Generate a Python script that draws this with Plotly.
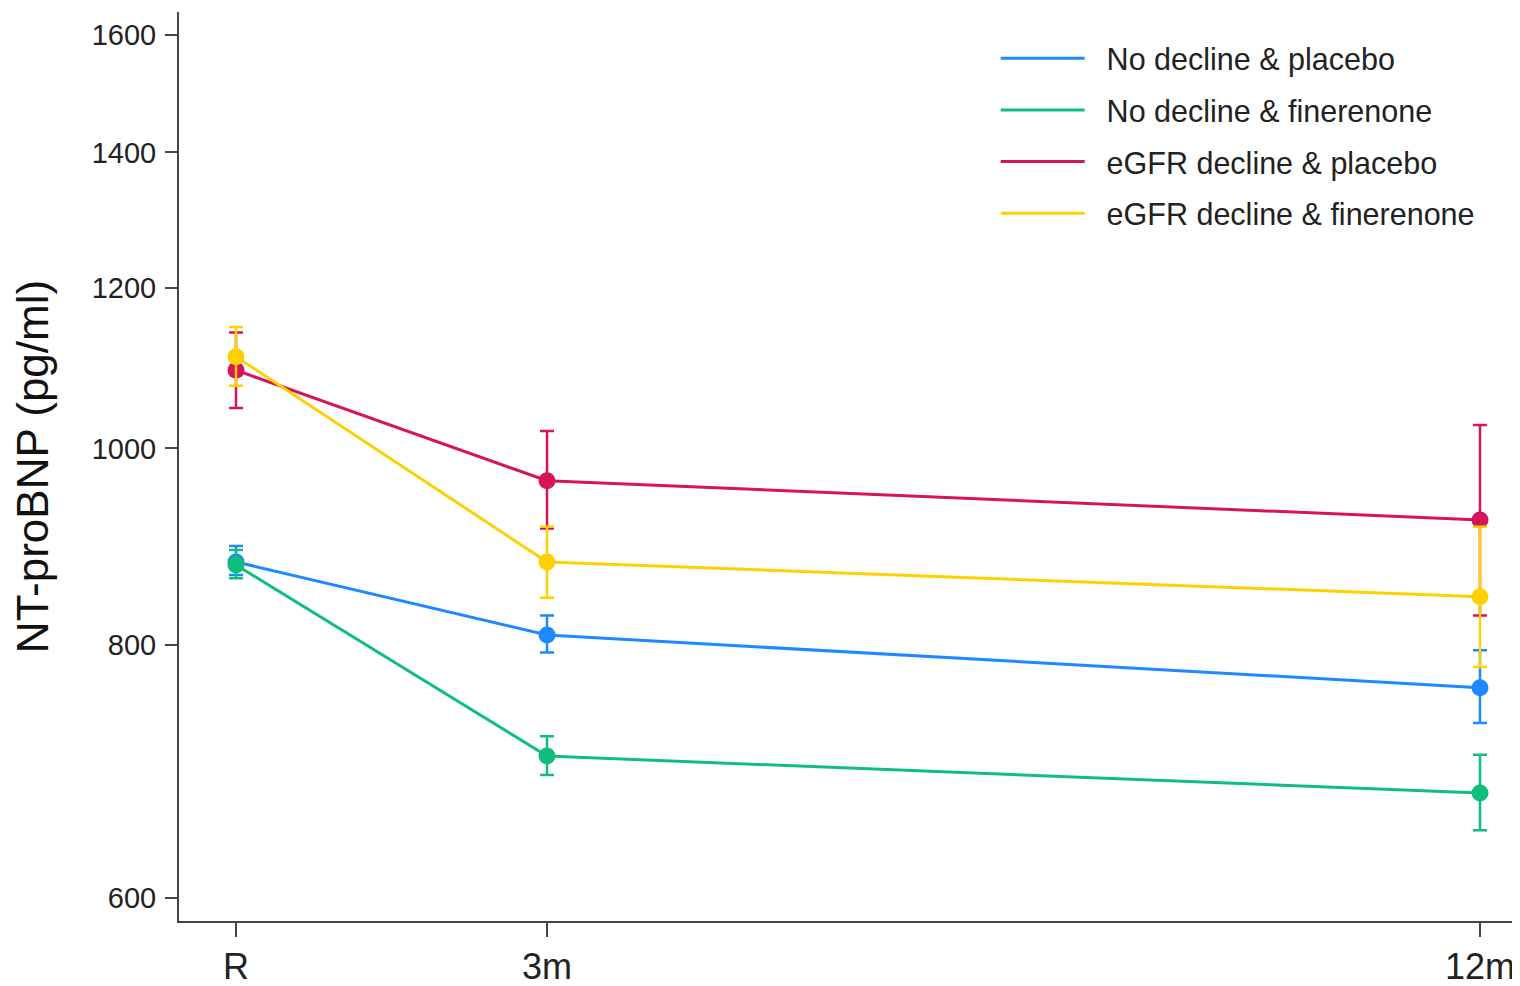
import plotly.graph_objects as go

# ---- data ----
timepoints = [0, 3, 12]
tick_labels = ["R", "3m", "12m"]
series_names = ["No decline & placebo", "No decline & finerenone",
                "eGFR decline & placebo", "eGFR decline & finerenone"]
series_colors = ["#1E88FF", "#10BE7C", "#D6145A", "#FFD000"]

blue_mean = [879, 809, 762]
blue_upper = [895, 827, 795]
blue_lower = [866, 793, 732]

green_mean = [876, 705, 676]
green_upper = [891, 721, 706]
green_lower = [863, 690, 648]

red_mean = [1093, 964, 922]
red_upper = [1141, 1020, 1027]
red_lower = [1047, 913, 827]

yellow_mean = [1110, 879, 845]
yellow_upper = [1148, 915, 915]
yellow_lower = [1074, 844, 780]

y_ticks = [600, 800, 1000, 1200, 1400, 1600]

means = [blue_mean, green_mean, red_mean, yellow_mean]
uppers = [blue_upper, green_upper, red_upper, yellow_upper]
lowers = [blue_lower, green_lower, red_lower, yellow_lower]

FONT = "Liberation Sans, Arial, sans-serif"
AX = "#444444"
NB = "\u00a0\u00a0"

fig = go.Figure()
for i, name in enumerate(series_names):
    m, u, lo, c = means[i], uppers[i], lowers[i], series_colors[i]
    fig.add_trace(go.Scatter(
        x=timepoints, y=m, mode="lines", name=NB + name, legendgroup=name,
        line=dict(color=c, width=3),
        error_y=dict(type="data", symmetric=False,
                     array=[a - b for a, b in zip(u, m)],
                     arrayminus=[b - a for a, b in zip(lo, m)],
                     color=c, thickness=2.5, width=7),
    ))
    fig.add_trace(go.Scatter(
        x=timepoints, y=m, mode="markers", showlegend=False, legendgroup=name,
        marker=dict(color=c, size=17, line=dict(width=0)),
    ))

fig.update_layout(
    width=1512, height=978,
    paper_bgcolor="white", plot_bgcolor="white",
    margin=dict(l=171, r=0, t=4, b=65, autoexpand=False),
    font=dict(family=FONT, color="#222222"),
    showlegend=True,
    legend=dict(
        x=0.609, y=0.978, xanchor="left", yanchor="top",
        font=dict(size=30.5, family=FONT, color="#222222"),
        itemwidth=84, tracegroupgap=9, bgcolor="rgba(0,0,0,0)",
    ),
    xaxis=dict(
        range=[-0.55, 12.386], tickmode="array", tickvals=timepoints,
        ticktext=tick_labels, showgrid=False, zeroline=False,
        showline=True, linecolor=AX, linewidth=2, automargin=False,
        ticks="outside", ticklen=14, tickwidth=2, tickcolor=AX,
        tickfont=dict(size=36, family=FONT, color="#222222"),
        ticklabelstandoff=-1,
    ),
    yaxis=dict(
        type="log", range=[2.7668, 3.2154], tickmode="array",
        tickvals=y_ticks, ticktext=[str(v) for v in y_ticks],
        showgrid=False, zeroline=False, automargin=False,
        showline=True, linecolor=AX, linewidth=2,
        ticks="outside", ticklen=12, tickwidth=2, tickcolor=AX,
        tickfont=dict(size=29, family=FONT, color="#222222"),
        ticklabelstandoff=3,
        title=dict(text="NT-proBNP (pg/ml)", standoff=37,
                   font=dict(size=44, family=FONT, color="#111111")),
    ),
)

fig.write_html("out.html")
